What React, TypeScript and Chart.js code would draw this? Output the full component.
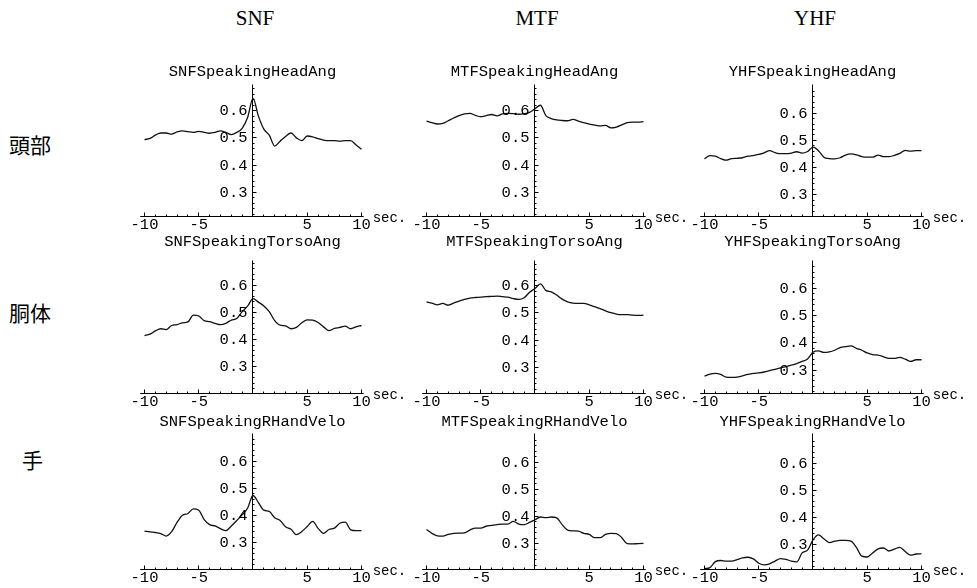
import React, { useEffect, useRef } from "react";
import { Chart, registerables } from "chart.js";
Chart.register(...registerables);

// ---------- data ----------
const TIME = [-10, -9.5, -9, -8.5, -8, -7.5, -7, -6.5, -6, -5.5, -5, -4.5, -4, -3.5, -3, -2.5, -2, -1.5, -1, -0.5, 0, 0.5, 1, 1.5, 2, 2.5, 3, 3.5, 4, 4.5, 5, 5.5, 6, 6.5, 7, 7.5, 8, 8.5, 9, 9.5, 10];

const SNF_HEAD = [0.494, 0.498, 0.51, 0.518, 0.518, 0.514, 0.522, 0.526, 0.523, 0.52, 0.524, 0.52, 0.517, 0.52, 0.526, 0.52, 0.512, 0.52, 0.535, 0.575, 0.645, 0.58, 0.532, 0.51, 0.47, 0.488, 0.505, 0.518, 0.5, 0.49, 0.507, 0.504, 0.497, 0.492, 0.49, 0.49, 0.488, 0.49, 0.49, 0.474, 0.458];
const MTF_HEAD = [0.562, 0.556, 0.551, 0.553, 0.563, 0.573, 0.582, 0.588, 0.59, 0.583, 0.578, 0.582, 0.586, 0.581, 0.588, 0.59, 0.589, 0.587, 0.589, 0.594, 0.607, 0.62, 0.582, 0.571, 0.566, 0.564, 0.563, 0.568, 0.562, 0.556, 0.551, 0.547, 0.544, 0.546, 0.537, 0.54, 0.548, 0.556, 0.558, 0.558, 0.56];
const YHF_HEAD = [0.432, 0.444, 0.442, 0.433, 0.427, 0.433, 0.434, 0.436, 0.442, 0.444, 0.448, 0.454, 0.462, 0.455, 0.451, 0.451, 0.453, 0.458, 0.453, 0.459, 0.475, 0.462, 0.438, 0.433, 0.432, 0.436, 0.446, 0.45, 0.447, 0.44, 0.438, 0.438, 0.446, 0.44, 0.44, 0.445, 0.452, 0.463, 0.46, 0.462, 0.462];

const SNF_TORSO = [0.415, 0.42, 0.432, 0.44, 0.437, 0.452, 0.455, 0.462, 0.465, 0.49, 0.487, 0.47, 0.466, 0.46, 0.455, 0.46, 0.472, 0.478, 0.503, 0.523, 0.551, 0.538, 0.524, 0.503, 0.47, 0.453, 0.451, 0.44, 0.445, 0.462, 0.473, 0.472, 0.463, 0.447, 0.433, 0.441, 0.445, 0.45, 0.44, 0.447, 0.452];
const MTF_TORSO = [0.541, 0.536, 0.53, 0.535, 0.529, 0.536, 0.544, 0.55, 0.555, 0.557, 0.558, 0.56, 0.561, 0.562, 0.56, 0.558, 0.553, 0.55, 0.556, 0.576, 0.59, 0.607, 0.583, 0.578, 0.566, 0.551, 0.541, 0.536, 0.535, 0.535, 0.53, 0.523, 0.516, 0.508, 0.501, 0.496, 0.494, 0.494, 0.492, 0.491, 0.492];
const YHF_TORSO = [0.278, 0.285, 0.288, 0.284, 0.274, 0.273, 0.274, 0.279, 0.284, 0.288, 0.29, 0.293, 0.298, 0.303, 0.308, 0.313, 0.318, 0.324, 0.332, 0.341, 0.366, 0.371, 0.365, 0.367, 0.373, 0.383, 0.386, 0.389, 0.38, 0.373, 0.363, 0.357, 0.355, 0.349, 0.343, 0.343, 0.347, 0.34, 0.332, 0.338, 0.338];

const SNF_HAND = [0.343, 0.34, 0.338, 0.334, 0.325, 0.341, 0.375, 0.401, 0.408, 0.425, 0.42, 0.385, 0.367, 0.362, 0.352, 0.345, 0.362, 0.382, 0.403, 0.427, 0.474, 0.448, 0.42, 0.416, 0.392, 0.382, 0.359, 0.35, 0.33, 0.342, 0.36, 0.379, 0.353, 0.335, 0.349, 0.354, 0.372, 0.376, 0.348, 0.345, 0.345];
const MTF_HAND = [0.352, 0.338, 0.329, 0.328, 0.334, 0.338, 0.339, 0.34, 0.35, 0.357, 0.357, 0.364, 0.367, 0.37, 0.372, 0.372, 0.382, 0.372, 0.37, 0.378, 0.388, 0.398, 0.396, 0.398, 0.395, 0.37, 0.35, 0.347, 0.346, 0.338, 0.334, 0.322, 0.322, 0.334, 0.338, 0.337, 0.322, 0.3, 0.299, 0.3, 0.301];
const YHF_HAND = [0.212, 0.216, 0.238, 0.242, 0.24, 0.24, 0.245, 0.252, 0.254, 0.248, 0.232, 0.226, 0.23, 0.24, 0.249, 0.246, 0.24, 0.237, 0.27, 0.28, 0.318, 0.336, 0.322, 0.308, 0.313, 0.316, 0.316, 0.313, 0.29, 0.258, 0.255, 0.27, 0.285, 0.288, 0.277, 0.284, 0.29, 0.275, 0.262, 0.266, 0.267];

const SUBJECTS = ["SNF", "MTF", "YHF"];
const PART_LABELS = ["頭部", "胴体", "手"];
const PART_KEYS = ["HeadAng", "TorsoAng", "RHandVelo"];
const SERIES = [
  [SNF_HEAD, MTF_HEAD, YHF_HEAD],
  [SNF_TORSO, MTF_TORSO, YHF_TORSO],
  [SNF_HAND, MTF_HAND, YHF_HAND],
];
const X_TICKS = [-10, -5, 5, 10];
const X_MINOR = [-9, -8, -7, -6, -4, -3, -2, -1, 1, 2, 3, 4, 6, 7, 8, 9];
const Y_TICKS = [0.3, 0.4, 0.5, 0.6];
const Y_MINOR = [0.22, 0.24, 0.26, 0.28, 0.32, 0.34, 0.36, 0.38, 0.42, 0.44, 0.46, 0.48, 0.52, 0.54, 0.56, 0.58, 0.62, 0.64, 0.66, 0.68];
const PANEL_Y_MIN = [
  [0.211, 0.211, 0.22],
  [0.202, 0.204, 0.214],
  [0.202, 0.205, 0.209],
];

// ---------- layout ----------
const PPS = 10.85; // px per second
const PPU = 272; // px per unit
const X_MIN = -10.4;
const X_MAX = 10.2;
const COL_AXIS_X = [253, 535, 813];
const ROW_AXIS_Y = [216.5, 393.5, 569.5];
const ROW_AXIS_H = [132, 133, 136];
const TITLE_BASE_Y = [76, 246, 426];
const MONO = "'Liberation Mono', 'Courier New', monospace";

type PanelProps = { r: number; c: number };

function Panel({ r, c }: PanelProps) {
  const ref = useRef<HTMLCanvasElement | null>(null);
  const axisX = COL_AXIS_X[c];
  const axisY = ROW_AXIS_Y[r];
  const h = ROW_AXIS_H[r];
  const yMin = PANEL_Y_MIN[r][c];
  const yMax = yMin + h / PPU;
  const cLeft = Math.round(axisX) - 135;
  const cTop = Math.round(TITLE_BASE_Y[r]) - 18;
  const cW = 300;
  const cH = Math.round(axisY) + 22 - cTop;
  const title = SUBJECTS[c] + "Speaking" + PART_KEYS[r];
  const values = SERIES[r][c];

  useEffect(() => {
    const canvas = ref.current;
    if (!canvas) return;
    const chartLeft = axisX + X_MIN * PPS;
    const chartRight = axisX + X_MAX * PPS;
    const padding = {
      left: chartLeft - cLeft,
      right: cLeft + cW - chartRight,
      top: axisY - h - cTop,
      bottom: cTop + cH - axisY,
    };
    const axesPlugin = {
      id: "mathAxes" + r + c,
      afterDraw(chart: any) {
        const { ctx, chartArea } = chart;
        const xs = chart.scales.x;
        const ys = chart.scales.y;
        const crisp = (v: number) => Math.floor(v) + 0.5;
        const x0 = crisp(xs.getPixelForValue(0));
        const yb = crisp(ys.getPixelForValue(yMin));
        ctx.save();
        ctx.strokeStyle = "#000";
        ctx.fillStyle = "#000";
        ctx.lineWidth = 1;
        ctx.beginPath();
        ctx.moveTo(chartArea.left, yb);
        ctx.lineTo(chartArea.right, yb);
        ctx.moveTo(x0, chartArea.top);
        ctx.lineTo(x0, yb);
        for (const t of X_TICKS) {
          const px = crisp(xs.getPixelForValue(t));
          ctx.moveTo(px, yb);
          ctx.lineTo(px, yb - 4);
        }
        for (const t of X_MINOR) {
          const px = crisp(xs.getPixelForValue(t));
          ctx.moveTo(px, yb);
          ctx.lineTo(px, yb - 2);
        }
        for (const v of Y_TICKS) {
          const py = crisp(ys.getPixelForValue(v));
          ctx.moveTo(x0, py);
          ctx.lineTo(x0 + 4, py);
        }
        for (const v of Y_MINOR) {
          if (v > yMax) continue;
          const py = crisp(ys.getPixelForValue(v));
          ctx.moveTo(x0, py);
          ctx.lineTo(x0 + 2, py);
        }
        ctx.stroke();

        ctx.font = "15.5px " + MONO;
        ctx.textBaseline = "alphabetic";
        ctx.textAlign = "center";
        for (const t of X_TICKS) {
          ctx.fillText(String(t), xs.getPixelForValue(t), yb + 12.5);
        }
        ctx.textAlign = "right";
        for (const v of Y_TICKS) {
          ctx.fillText(v.toFixed(1), x0 - 5, ys.getPixelForValue(v) + 4.5);
        }
        ctx.font = "14px " + MONO;
        ctx.textAlign = "left";
        ctx.fillText("sec.", chartArea.right + 9, yb + 5);
        ctx.font = "15.5px " + MONO;
        ctx.textAlign = "center";
        ctx.fillText(title, x0, TITLE_BASE_Y[r] - cTop);
        ctx.restore();
      },
    };
    const chart = new Chart(canvas, {
      type: "line",
      data: {
        datasets: [
          {
            data: TIME.map((t, i) => ({ x: t, y: values[i] })),
            borderColor: "#111",
            borderWidth: 1.3,
            pointRadius: 0,
            fill: false,
            cubicInterpolationMode: "monotone",
            clip: false as any,
          },
        ],
      },
      options: {
        animation: false,
        responsive: false,
        maintainAspectRatio: false,
        devicePixelRatio: 1,
        layout: { padding },
        events: [],
        plugins: { legend: { display: false }, tooltip: { enabled: false }, title: { display: false } },
        scales: {
          x: { type: "linear", min: X_MIN, max: X_MAX, display: false },
          y: { type: "linear", min: yMin, max: yMax, display: false },
        },
      },
      plugins: [axesPlugin],
    } as any);
    return () => chart.destroy();
  }, []);

  return (
    <canvas
      ref={ref}
      width={cW}
      height={cH}
      style={{ position: "absolute", left: cLeft, top: cTop, width: cW, height: cH }}
    />
  );
}

export default function App() {
  const panels: JSX.Element[] = [];
  for (let r = 0; r < 3; r++) for (let c = 0; c < 3; c++) panels.push(<Panel key={r + "-" + c} r={r} c={c} />);
  return (
    <div style={{ position: "absolute", left: 0, top: 0, width: 977, height: 588, background: "#fff", overflow: "hidden" }}>
      {SUBJECTS.map((s, i) => (
        <div
          key={s}
          style={{
            position: "absolute",
            left: COL_AXIS_X[i] + 2 - 60,
            width: 120,
            top: 4,
            textAlign: "center",
            fontFamily: "'Liberation Serif', 'Times New Roman', serif",
            fontSize: 21,
            lineHeight: "28px",
            color: "#000",
          }}
        >
          {s}
        </div>
      ))}
      {PART_LABELS.map((p, i) => (
        <div
          key={p}
          style={{
            position: "absolute",
            left: i === 2 ? 22 : 9,
            top: [130, 298, 445][i],
            fontFamily: "'Noto Sans CJK JP', sans-serif",
            fontSize: 21,
            lineHeight: "28px",
            color: "#000",
          }}
        >
          {p}
        </div>
      ))}
      {panels}
    </div>
  );
}
